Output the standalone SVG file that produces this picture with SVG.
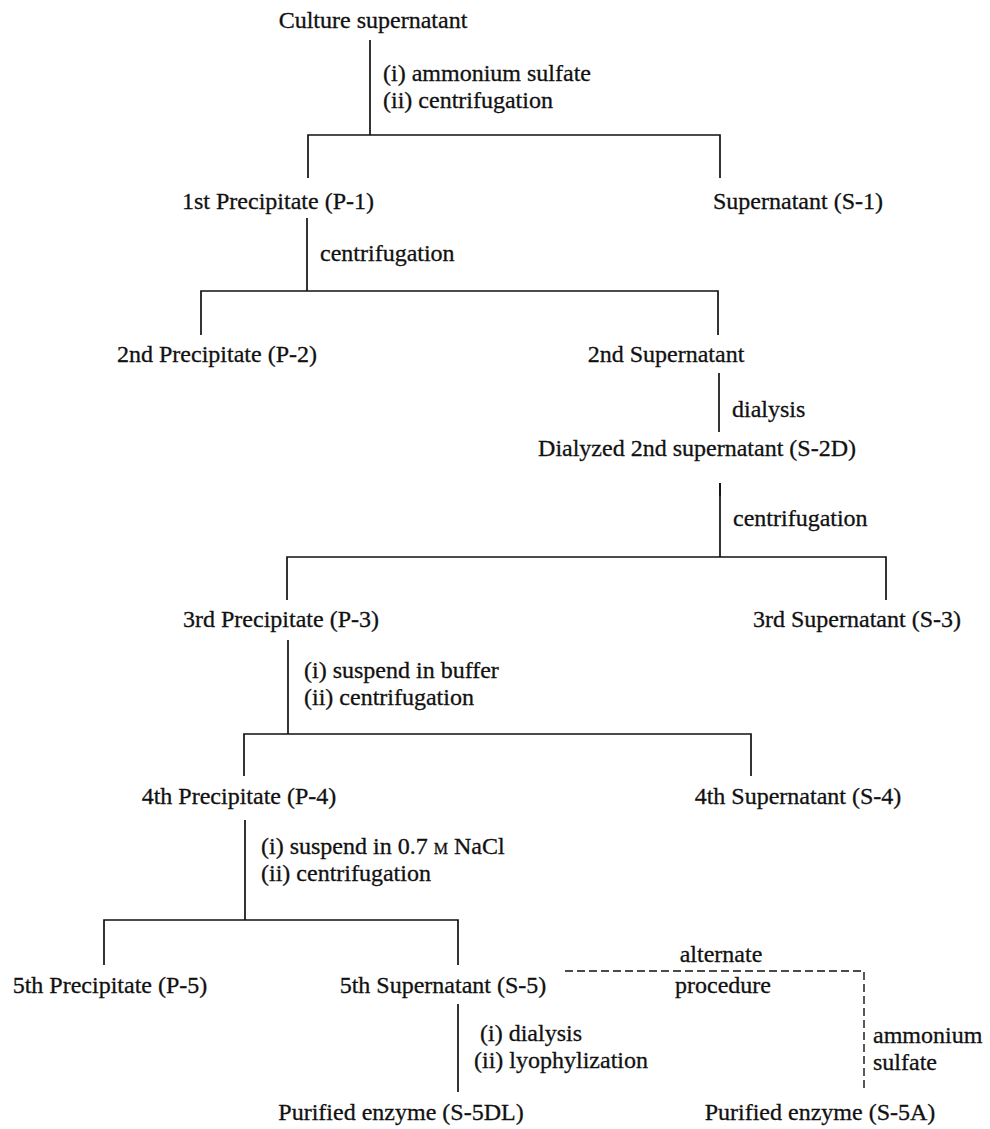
<svg xmlns="http://www.w3.org/2000/svg" width="990" height="1129" viewBox="0 0 990 1129">
<style>
text{font-family:"Liberation Serif","Times New Roman",serif;font-size:24px;fill:#111;stroke:#111;stroke-width:0.3;}
.c{text-anchor:middle;}
.ln{stroke:#111;stroke-width:1.7;fill:none;}
.dash{stroke:#111;stroke-width:1.4;fill:none;stroke-dasharray:8 4;}
</style>
<rect width="990" height="1129" fill="#fff"/>
<g id="connectors">
<path class="ln" d="M370,40V135 M308,178V135H720V178"/>
<path class="ln" d="M307,218V291 M201,335V291H718V335"/>
<path class="ln" d="M719,373V432"/>
<path class="ln" d="M720,483V557 M287,600V557H886V600"/>
<path class="ln" d="M720,483V496" stroke-width="3"/>
<path class="ln" d="M288,640V734 M244,776V734H751V776"/>
<path class="ln" d="M245,820V920 M104,965V920H458V965"/>
<path class="ln" d="M458,1004V1092"/>
<path class="dash" d="M565,971H864V1092"/>
</g>
<g id="labels">
<text x="383" y="81">(i) ammonium sulfate</text>
<text x="383" y="108">(ii) centrifugation</text>
<text x="320" y="261">centrifugation</text>
<text x="732" y="417">dialysis</text>
<text x="733" y="526">centrifugation</text>
<text x="304" y="678">(i) suspend in buffer</text>
<text x="304" y="705">(ii) centrifugation</text>
<text x="261" y="854">(i) suspend in 0.7 <tspan font-size="16">M</tspan> NaCl</text>
<text x="261" y="881">(ii) centrifugation</text>
<text class="c" x="721" y="962">alternate</text>
<text class="c" x="723" y="993">procedure</text>
<text x="480" y="1041">(i) dialysis</text>
<text x="474" y="1068">(ii) lyophylization</text>
<text x="873" y="1043">ammonium</text>
<text x="873" y="1070">sulfate</text>
</g>
<g id="n-culture"><text class="c" x="373" y="28">Culture supernatant</text></g>
<g id="n-p1"><text class="c" x="278" y="209">1st Precipitate (P-1)</text></g>
<g id="n-s1"><text class="c" x="798" y="209">Supernatant (S-1)</text></g>
<g id="n-p2"><text class="c" x="217" y="362">2nd Precipitate (P-2)</text></g>
<g id="n-s2"><text class="c" x="666" y="362">2nd Supernatant</text></g>
<g id="n-s2d"><text class="c" x="697" y="456">Dialyzed 2nd supernatant (S-2D)</text></g>
<g id="n-p3"><text class="c" x="281" y="627">3rd Precipitate (P-3)</text></g>
<g id="n-s3"><text class="c" x="857" y="627">3rd Supernatant (S-3)</text></g>
<g id="n-p4"><text class="c" x="239" y="804">4th Precipitate (P-4)</text></g>
<g id="n-s4"><text class="c" x="798" y="804">4th Supernatant (S-4)</text></g>
<g id="n-p5"><text class="c" x="110" y="993">5th Precipitate (P-5)</text></g>
<g id="n-s5"><text class="c" x="443" y="993">5th Supernatant (S-5)</text></g>
<g id="n-s5dl"><text class="c" x="401" y="1120">Purified enzyme (S-5DL)</text></g>
<g id="n-s5a"><text class="c" x="820" y="1120">Purified enzyme (S-5A)</text></g>
</svg>
